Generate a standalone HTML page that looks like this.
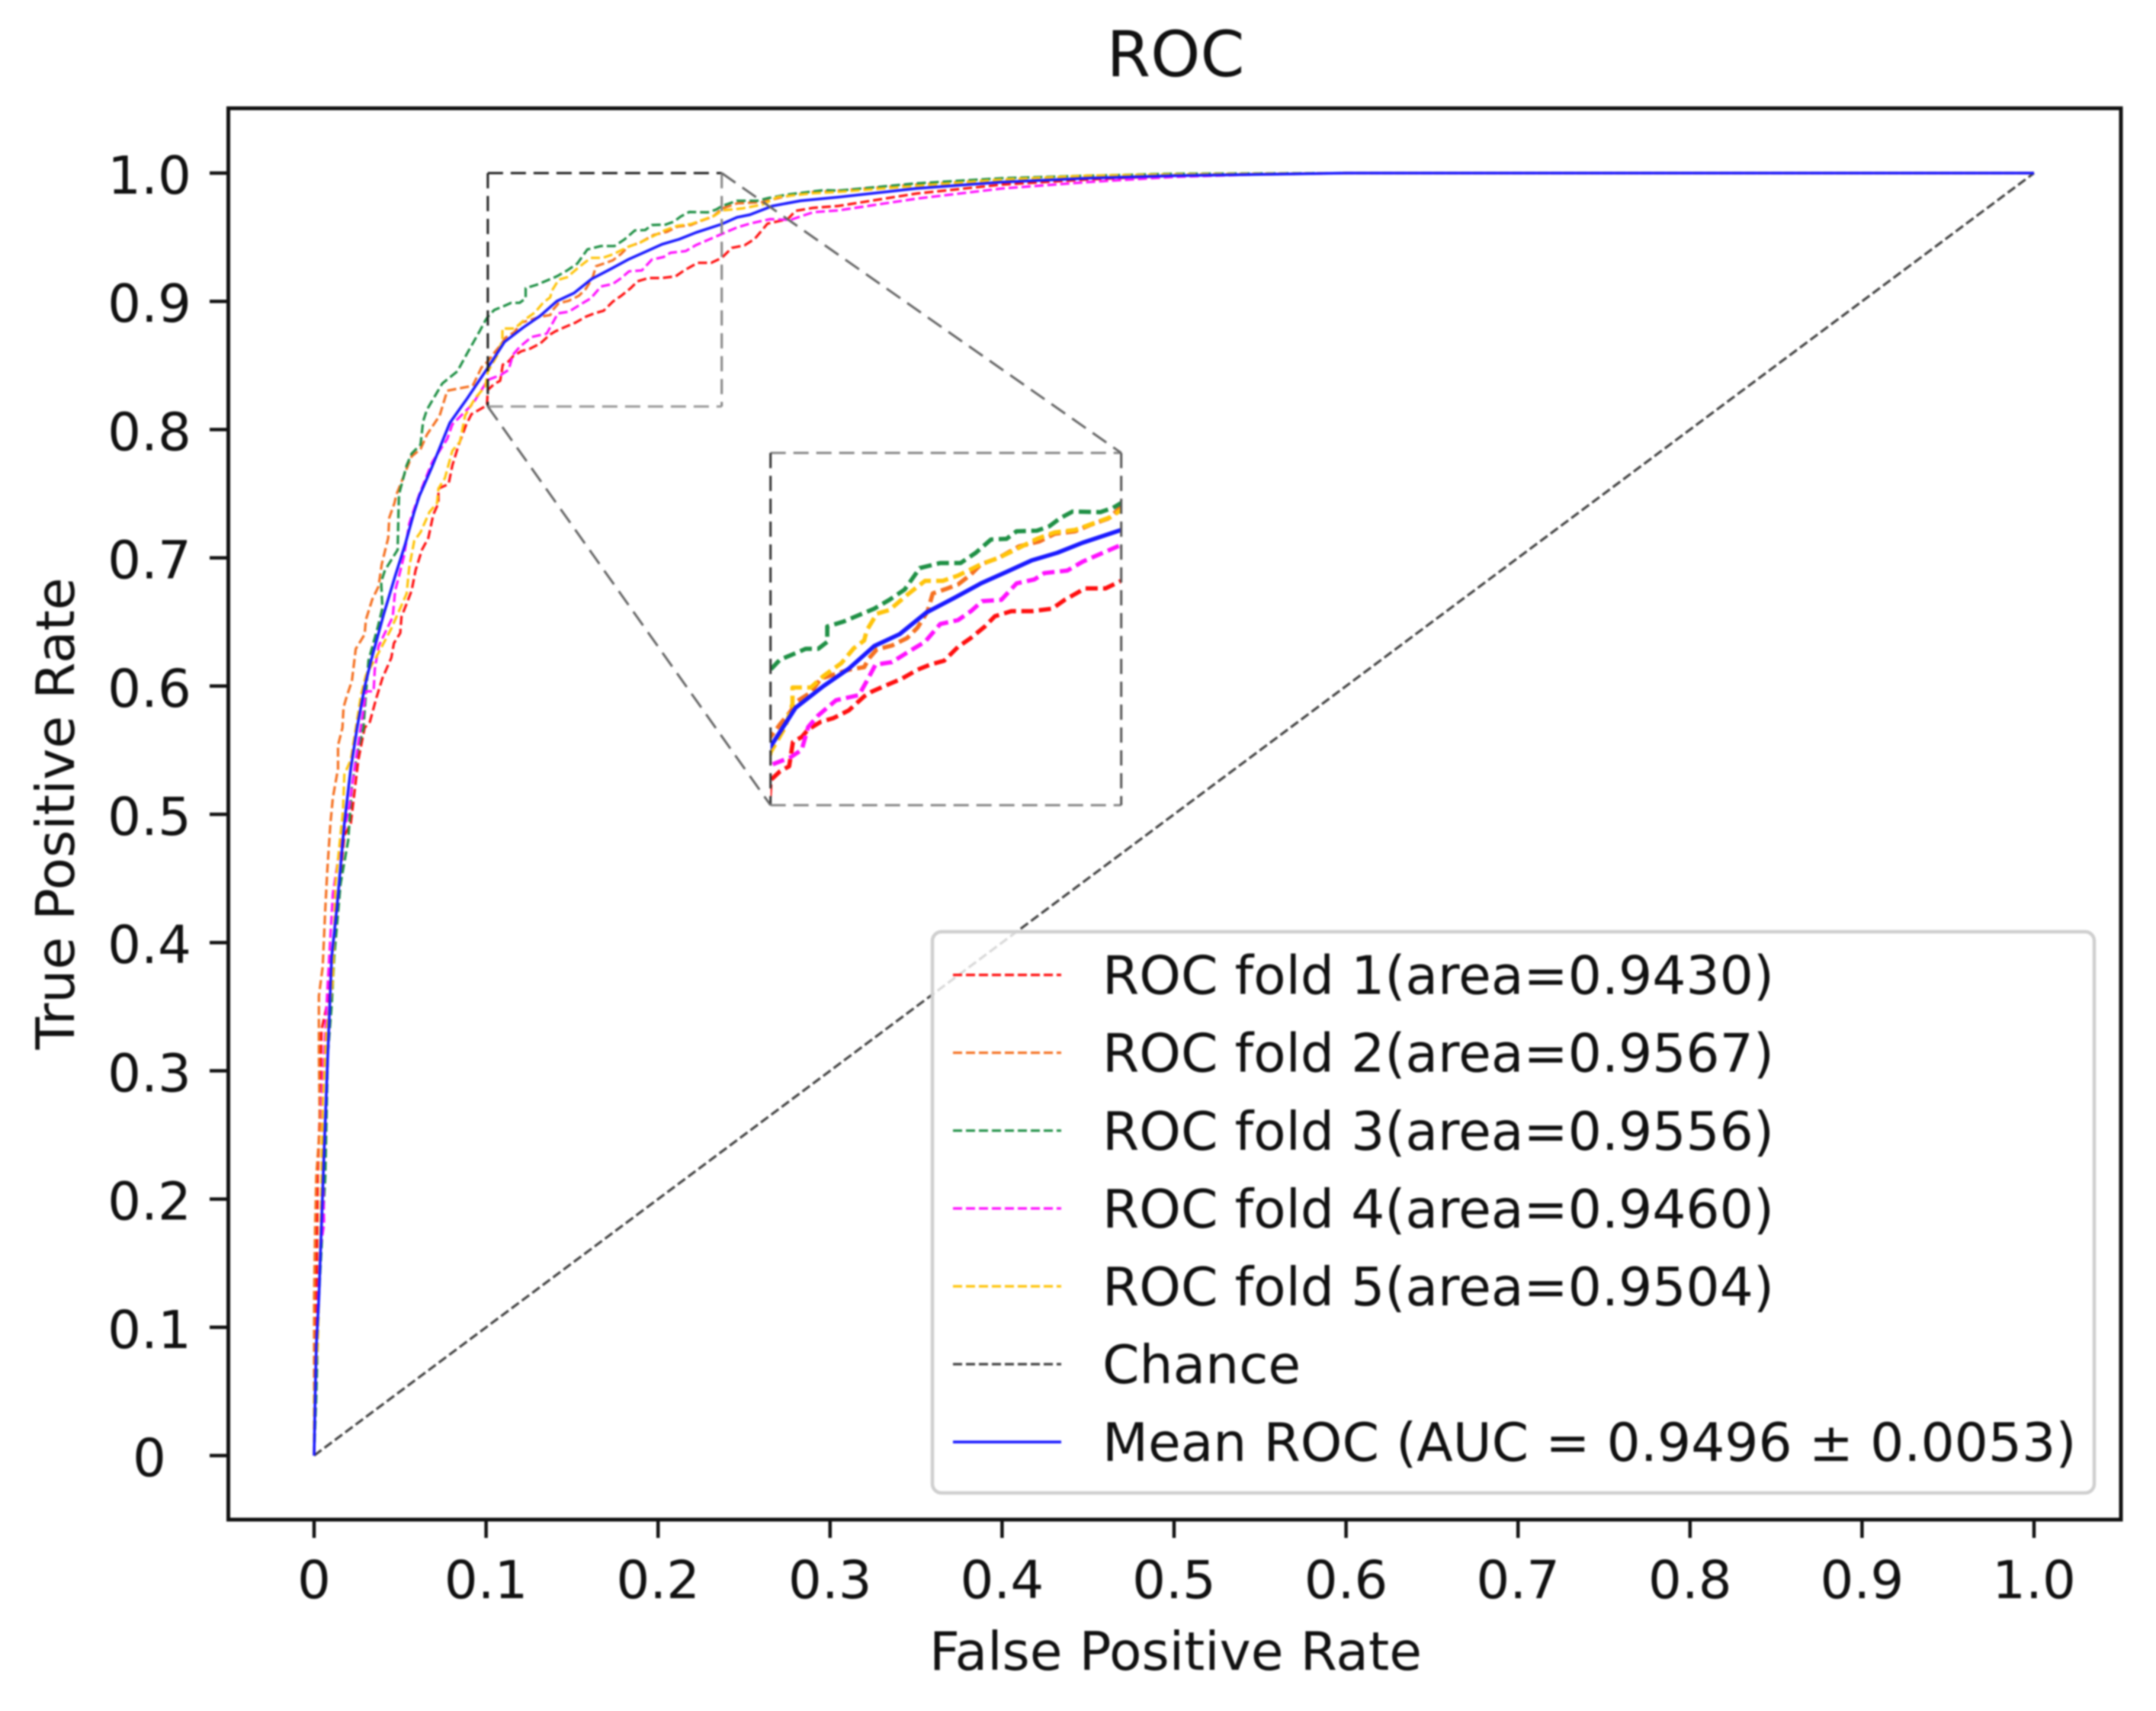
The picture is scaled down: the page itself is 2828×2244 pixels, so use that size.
<!DOCTYPE html>
<html lang="en">
<head>
<meta charset="utf-8">
<title>ROC</title>
<style>
html,body{margin:0;padding:0;background:#fff;overflow:hidden;}
svg{display:block;}
#plot-root{filter:blur(1.1px);}
text{font-family:"DejaVu Sans","Liberation Sans",sans-serif;fill:#111;}
</style>
</head>
<body>
<svg id="chart" xmlns="http://www.w3.org/2000/svg" width="2828" height="2244" viewBox="0 0 2828 2244">
  <defs>
    <clipPath id="inset-clip"><rect x="1010.7" y="594" width="460" height="462"/></clipPath>
  </defs>
  <g id="plot-root">
  <text x="1542" y="100" font-size="83" text-anchor="middle">ROC</text>
  <text x="1542" y="2190" font-size="69.5" text-anchor="middle">False Positive Rate</text>
  <text x="0" y="0" font-size="69.5" text-anchor="middle" transform="translate(97 1067) rotate(-90)">True Positive Rate</text>
  <g id="ticks"></g>
  <g id="curves"></g>
  <g id="inset"></g>
  <g id="indicator"></g>
  <rect x="299.5" y="142" width="2482.5" height="1851" fill="none" stroke="#111" stroke-width="5"/>
  <g id="legend"></g>
  </g>
</svg>
<script>
const xTickValues = [0,0.1,0.2,0.3,0.4,0.5,0.6,0.7,0.8,0.9,1.0];
const xTickLabels = ["0","0.1","0.2","0.3","0.4","0.5","0.6","0.7","0.8","0.9","1.0"];
const yTickValues = [0,0.1,0.2,0.3,0.4,0.5,0.6,0.7,0.8,0.9,1.0];
const yTickLabels = ["0","0.1","0.2","0.3","0.4","0.5","0.6","0.7","0.8","0.9","1.0"];

const legendLabels = ["ROC fold 1(area=0.9430)","ROC fold 2(area=0.9567)","ROC fold 3(area=0.9556)","ROC fold 4(area=0.9460)","ROC fold 5(area=0.9504)","Chance","Mean ROC (AUC = 0.9496 ± 0.0053)"];
const seriesNames = ["fold-1","fold-2","fold-3","fold-4","fold-5","chance","mean"];

const chanceFpr = [0,1];
const chanceTpr = [0,1];

const fold1Fpr = [0,.0006,.0013,.0021,.0035,.0043,.0080,.0139,.0176,.0213,.0257,.0294,.0324,.0361,.0397,.0449,.0464,.0501,.0508,.0567,.0590,.0627,.0664,.0693,.0723,.0723,.0782,.0804,.0841,.0885,.0915,.1005,.1010,.1047,.1082,.1097,.1131,.1156,.1205,.1254,.1314,.1373,.1402,.1461,.1520,.1580,.1629,.1683,.1737,.1787,.1841,.1880,.1944,.2023,.2102,.2151,.2230,.2309,.2370,.2429,.2503,.2562,.2636,.2754,.2799,.2902,.3049,.35,.40,.45,.50,.60,1];
const fold1Tpr = [0,.0664,.1043,.2181,.2750,.3318,.3546,.4342,.4835,.4928,.5424,.5675,.5720,.5902,.6061,.6221,.6334,.6414,.6539,.6744,.6903,.7063,.7154,.7336,.7427,.7540,.7575,.7722,.7882,.8041,.8120,.8189,.8309,.8355,.8381,.8506,.8532,.8571,.8611,.8630,.8670,.8742,.8766,.8801,.8834,.8880,.8906,.8926,.8998,.9044,.9103,.9156,.9182,.9182,.9195,.9241,.9300,.9300,.9339,.9417,.9437,.9487,.9606,.9641,.9705,.9729,.9744,.984,.991,.995,.998,1,1];

const fold2Fpr = [0,0,0,.0006,.0013,.0033,.0028,.0028,.0050,.0065,.0077,.0095,.0109,.0139,.0139,.0165,.0171,.0191,.0220,.0242,.0294,.0301,.0338,.0375,.0393,.0412,.0431,.0437,.0467,.0479,.0567,.0619,.0656,.0730,.0774,.0922,.0974,.1010,.1047,.1087,.1112,.1166,.1205,.1254,.1314,.1373,.1392,.1422,.1481,.1540,.1580,.1619,.1639,.1688,.1737,.1787,.1826,.1895,.1974,.2053,.2112,.2191,.2250,.2319,.2373,.2459,.2607,.2725,.2902,.3049,.35,.40,.45,.50,.60,1];
const fold2Tpr = [0,.0474,.1233,.1801,.2181,.2560,.3129,.3584,.3811,.4266,.4570,.4928,.5129,.5356,.5538,.5675,.5834,.5925,.6039,.6289,.6403,.6516,.6676,.6778,.6949,.7051,.7154,.7313,.7427,.7495,.7791,.7848,.7961,.8109,.8303,.8341,.8485,.8532,.8598,.8663,.8716,.8762,.8834,.8854,.8880,.8893,.8939,.8985,.9005,.9044,.9097,.9182,.9274,.9296,.9320,.9372,.9425,.9458,.9517,.9543,.9582,.9595,.9628,.9661,.9724,.9764,.9774,.9814,.9853,.9863,.991,.995,.998,.999,1,1];

const fold3Fpr = [0,.0013,.0028,.0065,.0080,.0102,.0117,.0154,.0198,.0220,.0250,.0287,.0316,.0368,.0397,.0390,.0412,.0486,.0491,.0494,.0538,.0567,.0619,.0634,.0656,.0745,.0833,.0891,.0966,.0997,.1010,.1047,.1107,.1146,.1195,.1230,.1230,.1294,.1353,.1412,.1471,.1530,.1589,.1668,.1747,.1806,.1865,.1925,.1964,.2043,.2092,.2131,.2181,.2289,.2338,.2373,.2459,.2577,.2636,.2754,.2961,.3049,.35,.40,.45,.50,.60,1];
const fold3Tpr = [0,.0474,.1233,.2181,.3129,.3508,.3887,.4456,.4797,.5220,.5470,.5675,.6198,.6448,.6607,.6812,.6903,.7063,.7381,.7495,.7722,.7813,.7882,.8064,.8155,.8359,.8454,.8597,.8775,.8853,.8880,.8932,.8965,.8988,.8988,.9024,.9103,.9129,.9162,.9195,.9241,.9294,.9405,.9431,.9431,.9484,.9553,.9556,.9595,.9598,.9622,.9661,.9697,.9694,.9716,.9744,.9784,.9784,.9804,.9833,.9867,.9863,.992,.996,.998,.9995,1,1];

const fold4Fpr = [0,.0006,.0013,.0035,.0058,.0043,.0065,.0080,.0109,.0139,.0205,.0242,.0287,.0301,.0346,.0353,.0375,.0457,.0471,.0494,.0523,.0553,.0582,.0612,.0686,.0774,.0804,.0922,.1010,.1087,.1131,.1156,.1195,.1264,.1353,.1383,.1417,.1481,.1560,.1609,.1668,.1737,.1787,.1831,.1905,.1964,.2033,.2072,.2161,.2220,.2299,.2373,.2459,.2533,.2651,.2769,.2902,.3049,.35,.40,.45,.50,.55,.60,1];
const fold4Tpr = [0,.0474,.0853,.1612,.1801,.2750,.3318,.3697,.4380,.4646,.5063,.5424,.5811,.5959,.5959,.6130,.6312,.6539,.6744,.6858,.7017,.7267,.7381,.7495,.7745,.7927,.8041,.8200,.8387,.8427,.8466,.8584,.8644,.8722,.8749,.8821,.8906,.8919,.8985,.9024,.9116,.9136,.9182,.9234,.9241,.9326,.9346,.9379,.9392,.9438,.9484,.9527,.9576,.9606,.9641,.9635,.9695,.9709,.980,.988,.993,.997,.999,1,1];

const fold5Fpr = [0,0,.0021,.0035,.0043,.0050,.0072,.0109,.0124,.0168,.0176,.0213,.0272,.0301,.0368,.0449,.0501,.0538,.0553,.0582,.0619,.0671,.0715,.0723,.0760,.0804,.0848,.0878,.0937,.0996,.1010,.1067,.1095,.1095,.1166,.1215,.1284,.1333,.1373,.1383,.1422,.1471,.1540,.1609,.1678,.1737,.1787,.1826,.1895,.1974,.2043,.2112,.2191,.2260,.2329,.2373,.2489,.2607,.2695,.2902,.3049,.35,.40,.45,.50,.60,1];
const fold5Tpr = [0,.0474,.0853,.1612,.2181,.2750,.3318,.3697,.4456,.5025,.5311,.5424,.5925,.6084,.6243,.6448,.6607,.6721,.6926,.7131,.7199,.7358,.7427,.7540,.7620,.7836,.7904,.8109,.8246,.8337,.8453,.8584,.8703,.8788,.8788,.8847,.8913,.8991,.9031,.9083,.9169,.9188,.9267,.9339,.9339,.9366,.9399,.9425,.9458,.9510,.9556,.9589,.9602,.9635,.9668,.9709,.9724,.9754,.9814,.9843,.9853,.990,.995,.998,.999,1,1];

const meanFpr = [0,.0006,.0013,.0028,.0058,.0080,.0102,.0132,.0176,.0213,.0250,.0294,.0331,.0405,.0471,.0530,.0582,.0612,.0686,.0789,.0892,.1010,.1107,.1215,.1314,.1412,.1511,.1614,.1727,.1826,.1925,.2023,.2122,.2220,.2370,.2459,.2533,.2666,.2828,.3049,.35,.40,.45,.50,.55,.60,1];
const meanTpr = [0,.0474,.0853,.1233,.2370,.3129,.3887,.4266,.4928,.5356,.5675,.5993,.6198,.6562,.6858,.7108,.7358,.7483,.7711,.8052,.8246,.8482,.8683,.8795,.8886,.9002,.9064,.9175,.9254,.9326,.9385,.9445,.9484,.9536,.9602,.9655,.9675,.9744,.9784,.9813,.988,.993,.996,.998,.999,1,1];

const NS = "http://www.w3.org/2000/svg";
const make = (tag, attrs) => {
  const el = document.createElementNS(NS, tag);
  for (const k in attrs) el.setAttribute(k, attrs[k]);
  return el;
};

/* main axes */
const xScale = v => 412 + v * 2256;
const yScale = v => 1909 - v * 1682;
/* inset axes */
const insetX0 = 0.101, insetX1 = 0.237, insetY0 = 0.818, insetY1 = 1.0;
const ixScale = v => 1010.7 + (v - insetX0) / (insetX1 - insetX0) * 460;
const iyScale = v => 1056 - (v - insetY0) / (insetY1 - insetY0) * 462;

const pathOf = (xs, ys, sx, sy) => xs.map((x, i) => (i ? "L" : "M") + sx(x).toFixed(1) + " " + sy(ys[i]).toFixed(1)).join("");

const seriesFpr = [fold1Fpr, fold2Fpr, fold3Fpr, fold4Fpr, fold5Fpr, chanceFpr, meanFpr];
const seriesTpr = [fold1Tpr, fold2Tpr, fold3Tpr, fold4Tpr, fold5Tpr, chanceTpr, meanTpr];
const seriesColors = ["#ff0f0f","#f57020","#1f9045","#ff10ff","#ffc40a","#444444","#1a1aff"];

const ticksG = document.getElementById("ticks");
xTickValues.forEach((v, i) => {
  const t = make("line", {x1: xScale(v), x2: xScale(v), y1: 1993, y2: 2017, stroke: "#111", "stroke-width": 4.5});
  
  
  ticksG.appendChild(t);
  const l = make("text", {x: xScale(v), y: 2096, "font-size": 69, "text-anchor": "middle"});
  
  
  l.textContent = xTickLabels[i];
  ticksG.appendChild(l);
});
yTickValues.forEach((v, i) => {
  const t = make("line", {x1: 275, x2: 299, y1: yScale(v), y2: yScale(v), stroke: "#111", "stroke-width": 4.5});
  
  
  ticksG.appendChild(t);
  const l = make("text", {x: 196, y: yScale(v) + 27, "font-size": 69, "text-anchor": "middle"});
  
  
  l.textContent = yTickLabels[i];
  ticksG.appendChild(l);
});

const curvesG = document.getElementById("curves");
seriesFpr.forEach((xs, i) => {
  const isMean = i === 6;
  const p = make("path", {
    d: pathOf(xs, seriesTpr[i], xScale, yScale),
    fill: "none",
    stroke: seriesColors[i],
    "stroke-width": isMean ? 3.6 : 3.2,
    "stroke-linejoin": "round"
  });
  
  
  if (!isMean) p.setAttribute("stroke-dasharray", "12 5");
  curvesG.appendChild(p);
});

const insetG = document.getElementById("inset");
const insetCurves = make("g", {"clip-path": "url(#inset-clip)"});


insetG.appendChild(insetCurves);
[0,1,2,3,4,6].forEach(i => {
  const isMean = i === 6;
  const p = make("path", {
    d: pathOf(seriesFpr[i], seriesTpr[i], ixScale, iyScale),
    fill: "none",
    stroke: seriesColors[i],
    "stroke-width": 5.6,
    "stroke-linejoin": "round"
  });
  
  
  if (!isMean) p.setAttribute("stroke-dasharray", "16 7");
  insetCurves.appendChild(p);
});

const indicatorG = document.getElementById("indicator");
const edge = (x1, y1, x2, y2, color, dash, name) => {
  const e = make("line", {x1, y1, x2, y2, stroke: color, "stroke-width": 3, "stroke-dasharray": dash});
  
  
  indicatorG.appendChild(e);
};
/* source rectangle, in data space */
const srcL = xScale(insetX0), srcR = xScale(insetX1), srcT = yScale(insetY1), srcB = yScale(insetY0);
edge(srcL, srcT, srcR, srcT, "#222", "20 10", "source-box-top");
edge(srcL, srcT, srcL, srcB, "#222", "20 10", "source-box-left");
edge(srcL, srcB, srcR, srcB, "#999", "20 10", "source-box-bottom");
edge(srcR, srcT, srcR, srcB, "#888", "20 10", "source-box-right");
/* inset frame */
edge(1010.7, 594, 1470.7, 594, "#888", "20 10", "inset-box-top");
edge(1010.7, 594, 1010.7, 1056, "#333", "20 10", "inset-box-left");
edge(1010.7, 1056, 1470.7, 1056, "#888", "20 10", "inset-box-bottom");
edge(1470.7, 594, 1470.7, 1056, "#555", "20 10", "inset-box-right");
/* connectors */
edge(srcR, srcT, 1470.7, 594, "#666", "22 11", "connector-top");
edge(srcL, srcB, 1010.7, 1056, "#666", "22 11", "connector-bottom");

const legendG = document.getElementById("legend");
const legendBox = make("rect", {x: 1223, y: 1222, width: 1524, height: 736, rx: 12, ry: 12, fill: "rgba(255,255,255,0.8)", stroke: "#cfcfcf", "stroke-width": 4.5});


legendG.appendChild(legendBox);
legendLabels.forEach((label, i) => {
  const rowY = 1278.6 + i * 102.1;
  const s = make("line", {x1: 1250, x2: 1392, y1: rowY, y2: rowY, stroke: seriesColors[i], "stroke-width": i === 6 ? 3.6 : 3.2});
  
  
  if (i !== 6) s.setAttribute("stroke-dasharray", "12 5");
  legendG.appendChild(s);
  const t = make("text", {x: 1446, y: rowY + 25, "font-size": 69.5});
  
  
  t.textContent = label;
  legendG.appendChild(t);
});
</script>
</body>
</html>
